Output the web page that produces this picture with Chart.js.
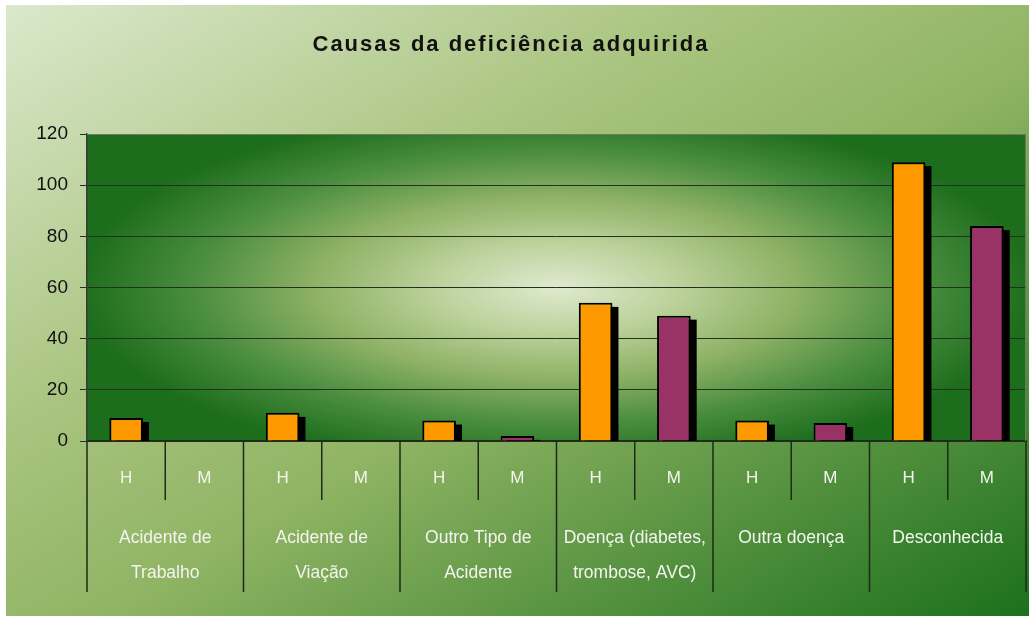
<!DOCTYPE html>
<html>
<head>
<meta charset="utf-8">
<script src="https://cdn.jsdelivr.net/npm/chart.js@4.4.1/dist/chart.umd.min.js"></script>
<style>
  html, body { margin: 0; padding: 0; background: #fff; }
  #bg {
    position: absolute; left: 6px; top: 5px; width: 1023px; height: 611px;
    background: linear-gradient(to bottom right, #dbe8cc 0%, #a9c47f 35%, #8fb463 55%, #1c701c 100%);
  }
  #wrap { position: absolute; left: 0; top: 0; width: 1029px; height: 619px; }
</style>
</head>
<body>
<div id="bg"></div>
<div id="wrap"><canvas id="myChart" width="1029" height="619"></canvas></div>
<script>
var chartTitle = 'Causas da deficiência adquirida';
var categories = [
  ['Acidente de', 'Trabalho'],
  ['Acidente de', 'Viação'],
  ['Outro Tipo de', 'Acidente'],
  ['Doença (diabetes,', 'trombose, AVC)'],
  ['Outra doença'],
  ['Desconhecida']
];
var sexes = ['H', 'M'];
var hValues = [9, 11, 8, 54, 8, 109];
var mValues = [0, 0, 2, 49, 7, 84];
var yTicks = [0, 20, 40, 60, 80, 100, 120];

var FONT = '"Liberation Sans", Arial, sans-serif';

// one slot per sex inside each category
var labels = [];
var hData = [];
var mData = [];
categories.forEach(function(c, i) {
  labels.push(sexes[0]); labels.push(sexes[1]);
  hData.push(hValues[i]); hData.push(null);
  mData.push(null); mData.push(mValues[i]);
});

var plotBackground = {
  id: 'plotBackground',
  beforeDraw: function(chart) {
    var a = chart.chartArea, ctx = chart.ctx;
    var cx = (a.left + a.right) / 2, cy = (a.top + a.bottom) / 2;
    var rx = (a.right - a.left) / 2, ry = (a.bottom - a.top) / 2;
    ctx.save();
    ctx.beginPath();
    ctx.rect(a.left, a.top, a.right - a.left, a.bottom - a.top);
    ctx.clip();
    ctx.fillStyle = '#1c6d1c';
    ctx.fillRect(a.left, a.top, a.right - a.left, a.bottom - a.top);
    ctx.translate(cx, cy);
    ctx.scale(1, (ry * 1.15) / rx);
    var g = ctx.createRadialGradient(0, 0, 0, 0, 0, rx * 1.02);
    g.addColorStop(0, '#dfeacf');
    g.addColorStop(0.25, '#bcd29c');
    g.addColorStop(0.5, '#8fb266');
    g.addColorStop(0.75, '#4c8e40');
    g.addColorStop(1, '#1c6d1c');
    ctx.fillStyle = g;
    ctx.fillRect(-rx, -rx * 2, rx * 2, rx * 4);
    ctx.restore();

    // title
    ctx.save();
    ctx.font = 'bold 22px ' + FONT;
    ctx.letterSpacing = '2px';
    ctx.fillStyle = '#111';
    ctx.textAlign = 'center';
    ctx.textBaseline = 'middle';
    ctx.fillText(chartTitle, 511, 45);
    ctx.restore();
  },
  beforeDatasetsDraw: function(chart) {
    var ctx = chart.ctx, a = chart.chartArea;
    ctx.save();
    ctx.beginPath();
    ctx.rect(a.left, a.top, a.right - a.left, a.bottom - a.top);
    ctx.clip();
    ctx.fillStyle = '#000';
    chart.data.datasets.forEach(function(ds, di) {
      chart.getDatasetMeta(di).data.forEach(function(el, i) {
        if (ds.data[i] === null || ds.data[i] === 0) return;
        var p = el.getProps(['x', 'y', 'base', 'width'], true);
        ctx.fillRect(p.x - p.width / 2 + 6, p.y + 4, p.width, p.base - p.y);
      });
    });
    ctx.restore();
  },
  afterDraw: function(chart) {
    var ctx = chart.ctx, a = chart.chartArea;
    var xs = chart.scales.x;
    var step = (a.right - a.left) / labels.length;
    ctx.save();
    ctx.strokeStyle = '#6a7a60';
    ctx.lineWidth = 1;
    ctx.beginPath();
    ctx.moveTo(a.left, a.top + 0.5); ctx.lineTo(a.right, a.top + 0.5);
    ctx.moveTo(a.right - 0.5, a.top); ctx.lineTo(a.right - 0.5, a.bottom);
    ctx.stroke();
    ctx.strokeStyle = '#1e2a1a';
    ctx.lineWidth = 1.5;
    ctx.beginPath();
    for (var i = 0; i <= labels.length; i++) {
      var x = xs.getPixelForValue(Math.min(i, labels.length - 1)) + (i === labels.length ? step / 2 : -step / 2);
      ctx.moveTo(x, a.bottom);
      ctx.lineTo(x, i % 2 === 0 ? a.bottom + 151 : a.bottom + 59);
    }
    ctx.stroke();
    ctx.restore();
  }
};

var ctx = document.getElementById('myChart').getContext('2d');
var myBarChart = new Chart(ctx, {
  type: 'bar',
  data: {
    labels: labels,
    datasets: [
      { label: 'H', data: hData, backgroundColor: '#ff9900', borderColor: '#000', borderWidth: 2, borderSkipped: 'bottom' },
      { label: 'M', data: mData, backgroundColor: '#993366', borderColor: '#000', borderWidth: 2, borderSkipped: 'bottom' }
    ]
  },
  options: {
    responsive: false,
    animation: false,
    devicePixelRatio: 1,
    layout: { padding: { left: 6, top: 134, right: 3, bottom: 0 } },
    categoryPercentage: 1,
    barPercentage: 0.43,
    plugins: { legend: { display: false }, tooltip: { enabled: false }, title: { display: false } },
    scales: {
      x: {
        stacked: true,
        grid: { display: false, drawTicks: false },
        border: { display: true, color: '#1e2a1a', width: 1.5 },
        ticks: { color: '#f4f4f0', font: { family: FONT, size: 17 }, padding: 27, maxRotation: 0, autoSkip: false },
        afterFit: function(s) { s.height = 60; }
      },
      x2: {
        type: 'category',
        position: 'bottom',
        labels: categories,
        grid: { display: false, drawTicks: false },
        border: { display: false },
        ticks: { color: '#f4f4f0', font: { family: FONT, size: 17.5, lineHeight: 2 }, padding: 20, maxRotation: 0, autoSkip: false },
        afterFit: function(s) { s.height = 118; }
      },
      y: {
        stacked: true,
        min: 0, max: 120,
        afterBuildTicks: function(s) { s.ticks = yTicks.map(function(v) { return { value: v }; }); },
        grid: { color: '#26301f', lineWidth: 1, tickLength: 7, tickColor: '#26301f' },
        border: { display: true, color: '#3a3a3a', width: 1.5 },
        ticks: { color: '#111', font: { family: FONT, size: 19 }, padding: 12 },
        afterFit: function(s) { s.width = 81; }
      }
    }
  },
  plugins: [plotBackground]
});
</script>
</body>
</html>
